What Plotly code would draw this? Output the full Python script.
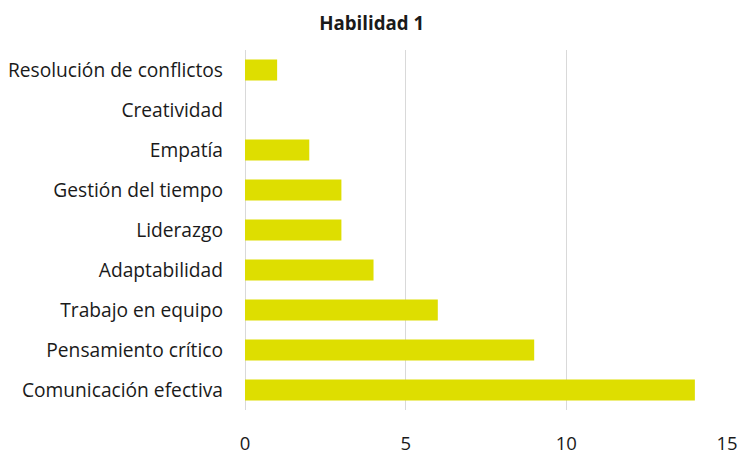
import plotly.graph_objects as go

categories = ["Comunicación efectiva", "Pensamiento crítico", "Trabajo en equipo",
              "Adaptabilidad", "Liderazgo", "Gestión del tiempo", "Empatía",
              "Creatividad", "Resolución de conflictos"]
values = [14, 9, 6, 4, 3, 3, 2, 0, 1]
x_ticks = [0, 5, 10, 15]

fig = go.Figure(go.Bar(
    x=values, y=categories, orientation="h",
    marker=dict(color="#DEDE00", line=dict(width=0)),
    width=0.53,
))
fig.update_layout(
    width=739, height=455,
    margin=dict(l=245, r=12, t=50, b=45, autoexpand=False),
    paper_bgcolor="white", plot_bgcolor="white",
    font=dict(family="Open Sans", size=19.2, color="#1a1a1a"),
    title=dict(text="<b>Habilidad 1</b>", x=0.503, xref="container", y=0.949, yref="container",
               xanchor="center", yanchor="middle", font=dict(size=18.7, color="#1a1a1a")),
    showlegend=False,
)
fig.update_xaxes(range=[0, 15], tickvals=x_ticks, showgrid=True, gridcolor="#d9d9d9",
                 gridwidth=1, zeroline=True, zerolinecolor="#d9d9d9", zerolinewidth=1,
                 showline=False, ticks="", ticklabelstandoff=20, tickfont=dict(size=18.5),
                 automargin=False)
fig.update_yaxes(categoryorder="array", categoryarray=categories, showgrid=False,
                 showline=False, ticks="", ticklabelstandoff=21, tickfont=dict(size=19.2),
                 automargin=False)
fig.write_html(
    "out.html",
    config={"displayModeBar": False},
    post_script="document.body.style.margin='0';document.documentElement.style.overflow='hidden';",
)
